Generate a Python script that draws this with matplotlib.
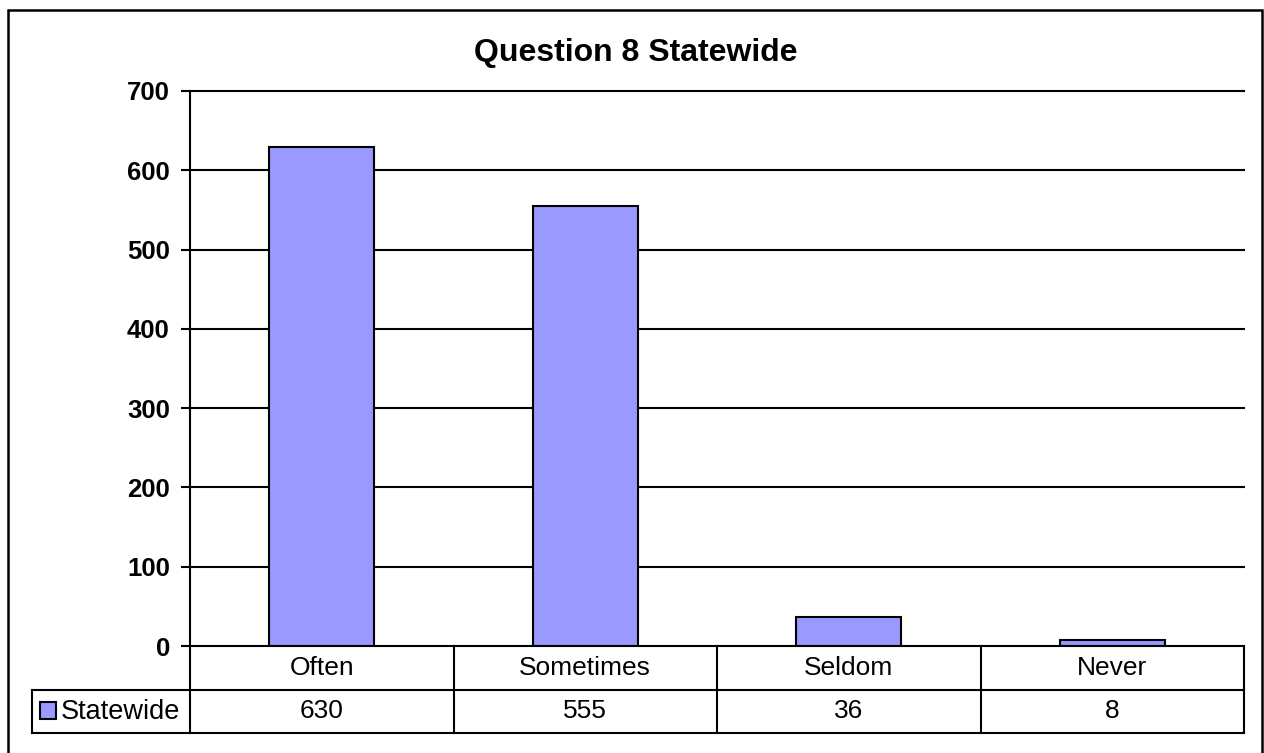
import matplotlib
matplotlib.use("Agg")
import matplotlib.pyplot as plt
from matplotlib.patches import Rectangle
import matplotlib.transforms as mtransforms

plt.rcParams['font.family'] = ['Liberation Sans', 'DejaVu Sans']

categories = ["Often", "Sometimes", "Seldom", "Never"]
statewide = [630, 555, 36, 8]
series_name = "Statewide"
title = "Question 8 Statewide"
yticks = [0, 100, 200, 300, 400, 500, 600, 700]

W, H = 1264, 753
bar_color = "#9999FF"
lw = 1.5

fig = plt.figure(figsize=(W / 100, H / 100), dpi=100)
fig.patch.set_facecolor("white")

# plot area in pixel coords: left 190, right 1244, top 91, bottom 646
ax = fig.add_axes([190 / W, 1 - 646 / H, (1244 - 190) / W, (646 - 91) / H])

x = list(range(len(categories)))
ax.bar(x, statewide, width=0.4, color=bar_color, edgecolor="black",
       linewidth=lw, zorder=3)

ax.set_xlim(-0.5, len(categories) - 0.5)
ax.set_ylim(0, 700)
ax.set_yticks(yticks)
ax.set_yticklabels([str(v) for v in yticks], fontweight="bold", fontsize=18.5)
ax.set_xticks([])
ax.tick_params(axis="y", direction="out", length=6.5, width=lw, pad=8)
for v in yticks[1:]:
    ax.axhline(v, color="black", lw=lw, zorder=1, clip_on=False)
for s in ["top", "right", "bottom"]:
    ax.spines[s].set_visible(False)
ax.spines["left"].set_linewidth(lw)
ax.spines["left"].set_zorder(4)

# data table under the plot
trans = mtransforms.blended_transform_factory(ax.transData, ax.transAxes)
plot_h = 646 - 91
r0 = 0.0
r1 = -(690 - 646) / plot_h
r2 = -(733 - 646) / plot_h
left_cell = (32 - 190) / (1244 - 190)  # axes fraction
tx = ax.transAxes

kw = dict(color="black", lw=lw, clip_on=False, zorder=5)
ax.plot([-0.5, len(categories) - 0.5], [r0, r0], transform=trans, **kw)
ax.plot([left_cell, 1], [r1, r1], transform=tx, **kw)
ax.plot([left_cell, 1], [r2, r2], transform=tx, **kw)
ax.plot([left_cell, left_cell], [r1, r2], transform=tx, **kw)
for i in range(len(categories) + 1):
    ax.plot([i - 0.5, i - 0.5], [r0, r2], transform=trans, **kw)

for i, (cat, val) in enumerate(zip(categories, statewide)):
    ax.text(i, (r0 + r1) / 2, cat, transform=trans, ha="center",
            va="center", fontsize=19)
    ax.text(i, (r1 + r2) / 2, str(val), transform=trans, ha="center",
            va="center", fontsize=19)

# legend key in the row header cell
fig.patches.append(Rectangle((40 / W, 1 - 719 / H), 16 / W, 17 / H,
                             transform=fig.transFigure, facecolor=bar_color,
                             edgecolor="black", lw=lw))
fig.text(61 / W, 1 - 712 / H, series_name, ha="left", va="center", fontsize=19.5)

fig.text(636 / W, 1 - 53 / H, title, ha="center", va="center",
         fontsize=23, fontweight="bold")

# outer chart border
fig.patches.append(Rectangle((8 / W, -10 / H), (1262 - 8) / W, (H - 10 + 10) / H,
                             transform=fig.transFigure, fill=False,
                             edgecolor="black", lw=1.8))

fig.savefig("out.png", dpi=100)
